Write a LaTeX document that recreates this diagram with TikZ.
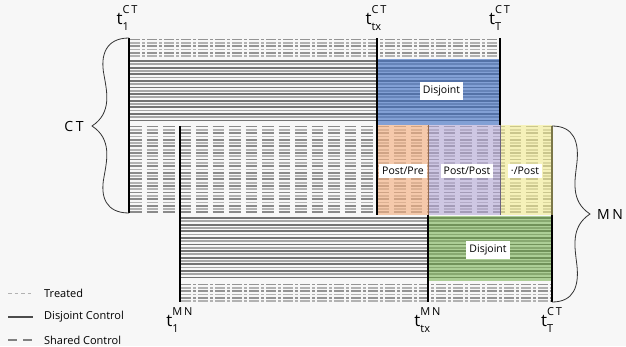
\documentclass[tikz,border=0pt]{standalone}
\usepackage{fontspec}
\setmainfont{Open Sans}
\definecolor{bg}{HTML}{F7F7F7}
\definecolor{blueC}{HTML}{4472C4}
\definecolor{orangeC}{HTML}{F4B183}
\definecolor{purpleC}{HTML}{B4A7D6}
\definecolor{yellowC}{HTML}{F5EE90}
\definecolor{greenC}{HTML}{70AD47}
\newcommand\mystripes[5]{%
  \foreach \k in {0,...,#5}{%
    \pgfmathsetmacro\yy{#4+3.3*\k}%
    \ifodd\k\relax\draw[#1B] (#2,\yy) -- (#3,\yy);\else\draw[#1A] (#2,\yy) -- (#3,\yy);\fi}}
\newcommand\tlab[2]{t\rlap{\raisebox{-.38em}{\fontsize{11}{11}\selectfont #1}}\raisebox{.62em}{\fontsize{11}{11}\selectfont #2}}
\begin{document}
\begin{tikzpicture}[x=1pt,y=-1pt,
  treatA/.style={draw=black!42,line width=1.8pt,dash pattern=on 10pt off 2pt on 3pt off 2pt},
  treatB/.style={draw=black!30,line width=1.8pt,dash pattern=on 10pt off 2pt on 3pt off 2pt},
  disjA/.style={draw=black!55,line width=1.8pt},
  disjB/.style={draw=black!35,line width=1.8pt},
  sharA/.style={draw=black!46,line width=1.8pt,dash pattern=on 11.5pt off 5pt},
  sharB/.style={draw=black!30,line width=1.8pt,dash pattern=on 11.5pt off 5pt},
  tline/.style={draw=black,line width=1.6pt},
  lbl/.style={fill=white,inner xsep=3pt,inner ysep=3.5pt,font=\fontsize{10.5}{12}\selectfont},
  tlbl/.style={anchor=base,inner sep=0pt,font=\fontsize{17}{17}\selectfont},
  brace/.style={draw=black!80,line width=0.8pt},
  grp/.style={font=\fontsize{14}{14}\selectfont,inner sep=0pt},
  leg/.style={anchor=west,inner sep=0pt,font=\fontsize{11}{13}\selectfont},
]
\fill[bg] (0,0) rectangle (626,346);
\useasboundingbox (0,0) rectangle (626,346);

% CT rows
\mystripes{treat}{130}{500}{39.5}{5}
\mystripes{disj}{130}{500}{61}{18}
% shared (union of CT and MN)
\mystripes{shar}{130}{552}{126.5}{26}
% MN rows
\mystripes{disj}{181}{552}{218}{18}
\mystripes{treat}{181}{552}{284.5}{5}

% coloured regions
\fill[blueC,opacity=.65] (377,59) rectangle (500,124.5);
\fill[orangeC,opacity=.65] (377,125) rectangle (428,215);
\fill[purpleC,opacity=.6] (428,125) rectangle (500,215);
\fill[yellowC,opacity=.6] (500,125) rectangle (552,215);
\fill[greenC,opacity=.55] (428,216) rectangle (552,281);

% vertical time lines
\coordinate (ct1t) at (129,38);  \coordinate (ct1b) at (129,213);
\coordinate (mn1t) at (180,126); \coordinate (mn1b) at (180,302);
\coordinate (cttt) at (377,38);  \coordinate (cttb) at (377,215);
\coordinate (ctTt) at (500,38);  \coordinate (ctTm) at (500,125); \coordinate (ctTb) at (500,215);
\coordinate (mnxt) at (428,125); \coordinate (mnxm) at (428,215); \coordinate (mnxb) at (428,302);
\coordinate (mnTt) at (552,126); \coordinate (mnTm) at (552,215); \coordinate (mnTb) at (552,302);
\draw[tline,line width=2pt] (ct1t) -- (ct1b);
\draw[tline,line width=2pt] (mn1t) -- (mn1b);
\draw[tline] (cttt) -- (cttb);
\draw[tline,line width=1.3pt] (ctTt) -- (ctTm);
\draw[draw=purpleC!60!black,line width=1pt] (ctTm) -- (ctTb);
\draw[draw=orangeC!60!black,line width=1pt] (mnxt) -- (mnxm);
\draw[tline] (mnxm) -- (mnxb);
\draw[draw=yellowC!50!black,line width=1.3pt] (mnTt) -- (mnTm);
\draw[tline] (mnTm) -- (mnTb);

% region labels
\node[lbl] (dj1) at (441.5,91) {Disjoint};
\node[lbl] (pp1) at (403,171) {Post/Pre};
\node[lbl] (pp2) at (467,171) {Post/Post};
\node[lbl] (pp3) at (525,171) {·/Post};
\node[lbl] (dj2) at (488,250) {Disjoint};

% time labels
\node[tlbl] (l1) at (127,24) {\tlab{1}{C\,T}};
\node[tlbl] (l2) at (376,24) {\tlab{tx}{C\,T}};
\node[tlbl] (l3) at (499.5,24) {\tlab{T}{C\,T}};
\node[tlbl] (l4) at (179.5,326.5) {\tlab{1}{M\,N}};
\node[tlbl] (l5) at (427.5,326.5) {\tlab{tx}{M\,N}};
\node[tlbl] (l6) at (551.5,326.5) {\tlab{T}{C\,T}};

% braces
\draw[brace] (ct1t) .. controls (106,38) and (100,55) .. (104,75)
  .. controls (107,92) and (112,113) .. (92,126)
  .. controls (112,139) and (107,160) .. (104,177)
  .. controls (100,197) and (106,213) .. (ct1b);
\node[grp] (ct) at (74,126) {C\hspace{2.5pt}T};
\draw[brace] (mnTt) .. controls (574,126) and (579,142) .. (577,162)
  .. controls (575,180) and (570,201) .. (590,214)
  .. controls (570,227) and (575,248) .. (577,266)
  .. controls (579,286) and (574,302) .. (mnTb);
\node[grp] (mn) at (610,214) {M\hspace{2.5pt}N};

% legend
\coordinate (lg1a) at (8,293.5); \coordinate (lg1b) at (33,293.5);
\coordinate (lg2a) at (8,317);   \coordinate (lg2b) at (33,317);
\coordinate (lg3a) at (8,340);   \coordinate (lg3b) at (33,340);
\draw[draw=black!30,line width=1.2pt,dash pattern=on 3.5pt off 3pt] (lg1a) -- (lg1b);
\draw[draw=black!70,line width=1.2pt] (lg2a) -- (lg2b);
\draw[draw=black!50,line width=1.2pt,dash pattern=on 9pt off 6pt] (lg3a) -- (lg3b);
\node[leg] (tr) at (44,293.5) {Treated};
\node[leg] (dc) at (44,317) {Disjoint Control};
\node[leg] (sc) at (44,340) {Shared Control};
\end{tikzpicture}
\end{document}
